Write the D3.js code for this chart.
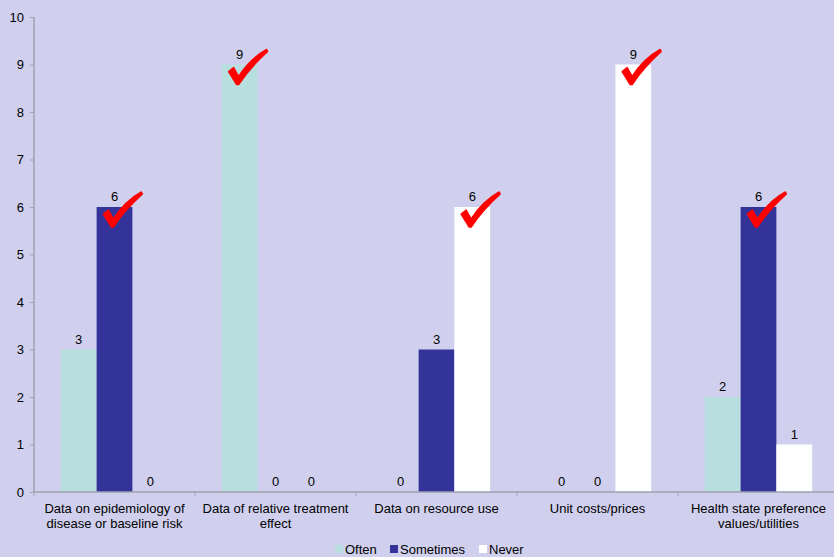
<!DOCTYPE html>
<html><head><meta charset="utf-8">
<script src="https://cdn.jsdelivr.net/npm/d3@7"></script>
<style>body{margin:0;background:#d0d0ee;}svg{display:block;font-family:"Liberation Sans",Arial,sans-serif;}</style>
</head><body>
<svg id="c" width="834" height="557"></svg>
<script>
const categories = [
  ["Data on epidemiology of", "disease or baseline risk"],
  ["Data of relative treatment", "effect"],
  ["Data on resource use"],
  ["Unit costs/prices"],
  ["Health state preference", "values/utilities"]
];
const seriesNames = ["Often", "Sometimes", "Never"];
const often = [3, 9, 0, 0, 2];
const sometimes = [6, 0, 3, 0, 6];
const never = [0, 0, 6, 9, 1];
const yTicks = [0,1,2,3,4,5,6,7,8,9,10];
const colors = ["#b7dfe0", "#333399", "#ffffff"];
const values = [often, sometimes, never];

const svg = d3.select("#c");
svg.append("rect").attr("width",834).attr("height",557).attr("fill","#d0d0ee");
const x0 = d3.scaleBand().domain(d3.range(categories.length)).range([34, 839]).paddingInner(0).paddingOuter(0);
const x1 = d3.scaleBand().domain(d3.range(3)).range([0, x0.bandwidth()]).paddingInner(0).paddingOuter(0.75);
const y = d3.scaleLinear().domain([0,10]).range([492, 17]);

// y axis
const ya = svg.append("g").attr("transform","translate(34,0)")
  .call(d3.axisLeft(y).tickValues(yTicks).tickSize(4).tickPadding(6).tickFormat(d3.format("d")));
ya.select(".domain").attr("stroke","#a0a0b0").attr("stroke-width",1.5).attr("d","M0,17V492");
ya.selectAll(".tick line").attr("stroke","#a0a0b0");
ya.selectAll(".tick text").attr("fill","#000").attr("font-size",13).attr("font-family","Liberation Sans, Arial, sans-serif");

// bars
const groups = svg.append("g").selectAll("g").data(categories).join("g")
  .attr("transform",(d,i)=>`translate(${x0(i)},0)`);
groups.each(function(d,i){
  const g = d3.select(this);
  values.forEach((vals,s)=>{
    const v = vals[i];
    g.append("rect").attr("x",x1(s)).attr("width",x1.bandwidth())
      .attr("y",y(v)).attr("height",y(0)-y(v)).attr("fill",colors[s]);
    g.append("text").attr("x",x1(s)+x1.bandwidth()/2).attr("y",y(v)-6)
      .attr("text-anchor","middle").attr("font-size",13).attr("fill","#000").text(v);
  });
});

// x axis
const xa = svg.append("g").attr("transform","translate(0,492)");
xa.append("line").attr("x1",34).attr("x2",834).attr("stroke","#a0a0b0").attr("stroke-width",1.5);
d3.range(categories.length+1).forEach(i=>{
  const xx = i<categories.length ? x0(i) : x0(categories.length-1)+x0.bandwidth();
  xa.append("line").attr("x1",xx).attr("x2",xx).attr("y1",0).attr("y2",4).attr("stroke","#a0a0b0");
});
categories.forEach((lines,i)=>{
  const t = xa.append("text").attr("x",x0(i)+x0.bandwidth()/2).attr("y",21)
    .attr("text-anchor","middle").attr("font-size",13).attr("fill","#000");
  lines.forEach((l,k)=>t.append("tspan").attr("x",x0(i)+x0.bandwidth()/2).attr("dy",k?15:0).text(l));
});

// checkmarks on max bar of each category
categories.forEach((c,i)=>{
  const vs = values.map(v=>v[i]);
  const m = d3.max(vs), s = vs.indexOf(m);
  const bx = x0(i)+x1(s)+x1.bandwidth(), by = y(m);
  svg.append("path")
    .attr("d",`M${bx-29},${by+7} L${bx-24},${by+3} L${bx-19},${by+12} C${bx-10},${by-2} ${bx},${by-10} ${bx+9},${by-15} L${bx+10},${by-13} C${bx},${by-4} ${bx-11},${by+8} ${bx-19},${by+20} L${bx-21},${by+20} Z`)
    .attr("fill","#ff0000").attr("stroke","#ff0000").attr("stroke-width",1.5).attr("stroke-linejoin","round");
});

// legend
const lg = svg.append("g").attr("font-size",13);
const lx = [335, 390, 479];
seriesNames.forEach((n,s)=>{
  lg.append("rect").attr("x",lx[s]).attr("y",545).attr("width",8).attr("height",8).attr("fill",colors[s]);
  lg.append("text").attr("x",lx[s]+10).attr("y",554).attr("fill","#000").text(n);
});
</script>
</body></html>
